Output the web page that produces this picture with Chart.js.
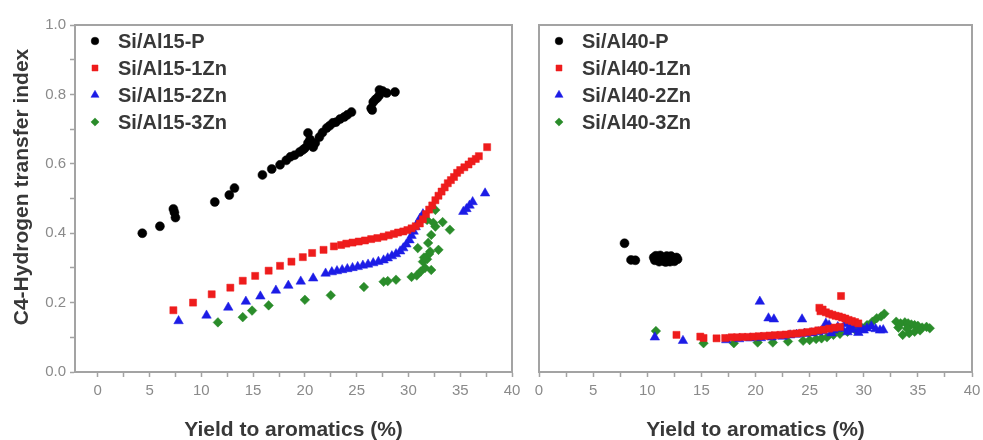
<!DOCTYPE html>
<html>
<head>
<meta charset="utf-8">
<script src="https://cdn.jsdelivr.net/npm/chart.js@4.4.1/dist/chart.umd.min.js"></script>
<style>
  html, body { margin: 0; padding: 0; background: #fff; }
  #wrap { position: relative; width: 983px; height: 440px; overflow: hidden; }
  #wrap canvas { position: absolute; top: 0; }
</style>
</head>
<body>
<div id="wrap">
  <canvas id="leftChart" width="520" height="440" style="left:0"></canvas>
  <canvas id="rightChart" width="463" height="440" style="left:520px"></canvas>
</div>
<script>
// tick positions (minor every 2.5 / 0.1, labels only on the major ones)
var xTicks = [0, 2.5, 5, 7.5, 10, 12.5, 15, 17.5, 20, 22.5, 25, 27.5, 30, 32.5, 35, 37.5, 40];
var yTicks = [0, 0.1, 0.2, 0.3, 0.4, 0.5, 0.6, 0.7, 0.8, 0.9, 1.0];

var xTitle = "Yield to aromatics (%)";
var yTitle = "C4-Hydrogen transfer index";

// serie lewego panelu (Si/Al15) - [wydajność, indeks]
var leftLabels = ["Si/Al15-P", "Si/Al15-1Zn", "Si/Al15-2Zn", "Si/Al15-3Zn"];
var al15P = [[4.3,0.40],[6.0,0.42],[7.3,0.47],[7.4,0.46],[7.5,0.445],[11.3,0.49],[12.7,0.51],[13.2,0.53],
  [15.9,0.568],[16.8,0.585],[17.6,0.597],[18.2,0.61],[18.6,0.62],[19.0,0.625],[19.5,0.634],[19.8,0.64],
  [20.0,0.645],[20.3,0.66],[20.3,0.689],[20.5,0.67],[20.8,0.648],[21.0,0.66],[21.4,0.677],[21.7,0.69],
  [22.1,0.703],[22.4,0.71],[22.7,0.718],[23.0,0.72],[23.4,0.729],[23.8,0.735],[24.1,0.741],[24.5,0.749],
  [26.4,0.76],[26.5,0.755],[26.6,0.778],[26.8,0.785],[27.0,0.79],[27.2,0.798],[27.2,0.813],[27.5,0.81],
  [27.9,0.804],[28.7,0.807]];
var al15Zn1 = [[7.3,0.178],[9.2,0.20],[11.0,0.224],[12.8,0.243],[14.0,0.263],[15.2,0.277],[16.5,0.292],
  [17.6,0.306],[18.7,0.318],[19.8,0.331],[20.7,0.343],[21.8,0.352],[22.8,0.362],[23.5,0.366],[24.0,0.37],
  [24.6,0.373],[25.2,0.376],[25.8,0.379],[26.4,0.383],[27.0,0.386],[27.6,0.39],[28.1,0.394],[28.6,0.398],
  [29.0,0.402],[29.5,0.405],[29.9,0.409],[30.3,0.414],[30.7,0.42],[31.1,0.428],[31.4,0.44],[31.7,0.455],
  [32.0,0.468],[32.3,0.48],[32.6,0.495],[32.9,0.508],[33.2,0.52],[33.5,0.532],[33.8,0.544],[34.1,0.553],
  [34.4,0.562],[34.7,0.574],[35.0,0.582],[35.4,0.59],[35.8,0.598],[36.1,0.607],[36.5,0.614],[36.8,0.622],
  [37.6,0.648]];
var al15Zn2 = [[7.8,0.147],[10.5,0.163],[12.6,0.186],[14.3,0.203],[15.7,0.218],[17.2,0.235],[18.4,0.249],
  [19.6,0.261],[20.8,0.27],[22.0,0.284],[22.6,0.288],[23.1,0.291],[23.6,0.294],[24.1,0.297],[24.6,0.3],
  [25.1,0.303],[25.6,0.307],[26.1,0.31],[26.6,0.314],[27.1,0.318],[27.6,0.322],[28.0,0.328],[28.4,0.334],
  [28.8,0.34],[29.2,0.348],[29.5,0.357],[29.8,0.368],[30.1,0.38],[30.3,0.393],[30.5,0.405],[30.7,0.418],
  [30.9,0.43],[31.1,0.442],[31.4,0.455],[35.3,0.462],[35.6,0.47],[35.9,0.48],[36.2,0.49],[37.4,0.515]];
var al15Zn3 = [[11.6,0.143],[14.0,0.158],[14.9,0.177],[16.5,0.192],[20.0,0.208],[22.5,0.221],[25.7,0.245],
  [27.6,0.26],[28.0,0.262],[28.8,0.266],[30.3,0.274],[30.8,0.278],[31.2,0.29],[31.6,0.3],[31.4,0.318],
  [31.8,0.325],[32.2,0.294],[32.0,0.34],[30.9,0.357],[32.1,0.347],[32.9,0.352],[31.9,0.372],[32.2,0.395],
  [32.6,0.419],[33.3,0.432],[34.0,0.41],[31.8,0.438],[32.6,0.467],[32.4,0.43],[31.5,0.33]];

// serie prawego panelu (Si/Al40)
var rightLabels = ["Si/Al40-P", "Si/Al40-1Zn", "Si/Al40-2Zn", "Si/Al40-3Zn"];
var al40P = [[7.9,0.371],[8.5,0.323],[8.9,0.322],[10.6,0.33],[10.7,0.322],[10.8,0.335],[11.0,0.325],
  [11.1,0.318],[11.2,0.336],[11.3,0.33],[11.5,0.32],[11.6,0.326],[11.7,0.317],[11.8,0.334],[11.9,0.328],
  [12.0,0.322],[12.1,0.318],[12.2,0.334],[12.3,0.33],[12.4,0.324],[12.5,0.319],[12.7,0.33],[12.8,0.325]];
var al40Zn1 = [[12.7,0.107],[14.9,0.102],[15.2,0.098],[16.4,0.097],[17.2,0.098],[17.8,0.1],[18.3,0.1],
  [18.8,0.101],[19.3,0.101],[19.8,0.102],[20.3,0.103],[20.8,0.104],[21.3,0.105],[21.8,0.106],[22.3,0.107],
  [22.8,0.108],[23.3,0.11],[23.8,0.111],[24.3,0.113],[24.8,0.115],[25.3,0.117],[25.8,0.12],[26.3,0.122],
  [26.8,0.125],[27.3,0.128],[27.8,0.13],[25.9,0.185],[26.0,0.175],[26.2,0.18],[26.5,0.172],[26.8,0.168],
  [27.1,0.165],[27.4,0.162],[27.7,0.16],[28.0,0.157],[28.3,0.154],[28.6,0.15],[28.9,0.147],[29.2,0.144],
  [29.5,0.14],[27.9,0.219]];
var al40Zn2 = [[10.7,0.10],[13.3,0.09],[17.3,0.092],[20.4,0.203],[21.2,0.155],[21.7,0.152],[24.3,0.152],
  [18.5,0.095],[19.5,0.097],[20.5,0.098],[21.5,0.1],[22.5,0.102],[23.2,0.106],[23.8,0.108],[24.5,0.11],
  [25.2,0.112],[25.8,0.115],[26.2,0.118],[26.5,0.14],[26.8,0.135],[27.2,0.12],[27.6,0.13],[28.0,0.125],
  [28.3,0.138],[28.7,0.13],[29.0,0.122],[29.3,0.135],[29.7,0.128],[30.0,0.12],[30.3,0.126],[30.7,0.132],
  [31.1,0.124],[31.5,0.12],[31.8,0.121],[27.0,0.112],[28.5,0.115],[29.5,0.113]];
var al40Zn3 = [[10.8,0.118],[15.2,0.083],[18.0,0.083],[20.2,0.085],[21.6,0.085],[23.0,0.088],[24.4,0.09],
  [25.0,0.092],[25.6,0.095],[26.1,0.097],[26.6,0.1],[27.2,0.107],[27.8,0.11],[28.5,0.116],[29.2,0.122],
  [29.8,0.128],[30.3,0.135],[30.8,0.145],[31.2,0.155],[31.6,0.16],[31.9,0.168],[33.0,0.145],[33.4,0.14],
  [33.8,0.143],[34.1,0.14],[34.4,0.137],[34.7,0.135],[35.0,0.133],[35.4,0.128],[35.8,0.13],[36.1,0.126],
  [33.6,0.107],[34.2,0.112],[34.7,0.116],[35.2,0.12],[33.2,0.128],[34.0,0.125]];

// wygląd serii
var seriesColors = ["#000000", "#ee1c1c", "#1c1ce6", "#2a8c2a"];
var seriesStyles = ["circle", "rect", "triangle", "rectRot"];
var seriesRadius = [4.5, 5, 5.5, 4.8];

var fontFamily = "'Liberation Sans', Arial, sans-serif";
var axisColor = "#a3a3a3";
var tickColor = "#8a8a8a";
var textColor = "#383838";

function toPoints(pairs) {
  return pairs.map(function (p) { return { x: p[0], y: p[1] }; });
}

function makeDatasets(labels, series) {
  return series.map(function (s, i) {
    return {
      label: labels[i],
      data: toPoints(s),
      pointStyle: seriesStyles[i],
      pointRadius: seriesRadius[i],
      backgroundColor: seriesColors[i],
      borderColor: seriesColors[i],
      borderWidth: 0.5,
      showLine: false
    };
  });
}

// ramka wokół obszaru wykresu + legenda w środku + tytuł osi Y
var panelPlugin = {
  id: "panelDecor",
  afterDraw: function (chart, args, opts) {
    var ctx = chart.ctx;
    var ca = chart.chartArea;
    ctx.save();
    ctx.strokeStyle = axisColor;
    ctx.lineWidth = 2;
    ctx.strokeRect(ca.left, ca.top, ca.right - ca.left, ca.bottom - ca.top);

    // legenda
    ctx.font = "bold 20px " + fontFamily;
    ctx.textBaseline = "middle";
    ctx.textAlign = "left";
    chart.data.datasets.forEach(function (ds, i) {
      var y = ca.top + 16 + i * 27;
      ctx.fillStyle = ds.backgroundColor;
      ctx.strokeStyle = ds.borderColor;
      ctx.lineWidth = 0.5;
      Chart.helpers.drawPoint(ctx, { pointStyle: ds.pointStyle, radius: ds.pointRadius * 0.85, rotation: 0, borderWidth: 0.5 }, ca.left + 20, y);
      ctx.fillStyle = textColor;
      ctx.fillText(ds.label, ca.left + 43, y + 1);
    });

    if (opts.yTitle) {
      ctx.translate(22, 187);
      ctx.rotate(-Math.PI / 2);
      ctx.textAlign = "center";
      ctx.fillStyle = textColor;
      ctx.font = "bold 21px " + fontFamily;
      ctx.fillText(opts.yTitle, 0, 0);
    }
    ctx.restore();
  }
};

function makeOptions(cfg) {
  return {
    responsive: false,
    animation: false,
    layout: { padding: { top: 25, right: cfg.padRight, left: 0, bottom: 0 } },
    plugins: {
      legend: { display: false },
      tooltip: { enabled: false },
      panelDecor: { yTitle: cfg.yTitle }
    },
    scales: {
      x: {
        type: "linear",
        min: cfg.xMin,
        max: 40,
        afterFit: function (s) {
          s.height = 68;
          s.paddingLeft = 0;
          s.paddingRight = 0;
        },
        afterBuildTicks: function (s) {
          s.ticks = xTicks.map(function (v) { return { value: v }; });
        },
        ticks: {
          color: tickColor,
          font: { size: 15, family: fontFamily },
          padding: 5,
          maxRotation: 0,
          autoSkip: false,
          callback: function (v) { return v % 5 === 0 ? String(v) : ""; }
        },
        grid: { drawOnChartArea: false, tickLength: 5, color: axisColor, tickWidth: 1.5 },
        border: { color: axisColor, width: 2 },
        title: {
          display: true,
          text: xTitle,
          color: textColor,
          font: { size: 21, weight: "bold", family: fontFamily },
          padding: { top: 0, bottom: -3 }
        }
      },
      y: {
        type: "linear",
        min: 0,
        max: 1,
        afterFit: function (s) {
          s.width = cfg.yWidth;
          s.paddingTop = 0;
          s.paddingBottom = 0;
        },
        afterBuildTicks: function (s) {
          s.ticks = yTicks.map(function (v) { return { value: v }; });
        },
        ticks: {
          display: cfg.yLabels,
          color: tickColor,
          font: { size: 15, family: fontFamily },
          padding: 4,
          autoSkip: false,
          callback: function (v) { return Math.round(v * 10) % 2 === 0 ? v.toFixed(1) : ""; }
        },
        grid: { drawOnChartArea: false, drawTicks: cfg.yLabels, tickLength: 5, color: axisColor, tickWidth: 1.5 },
        border: { color: axisColor, width: 2 }
      }
    }
  };
}

new Chart(document.getElementById("leftChart"), {
  type: "scatter",
  data: { datasets: makeDatasets(leftLabels, [al15P, al15Zn1, al15Zn2, al15Zn3]) },
  options: makeOptions({ xMin: -2.2, padRight: 8, yWidth: 75, yLabels: true, yTitle: yTitle }),
  plugins: [panelPlugin]
});

new Chart(document.getElementById("rightChart"), {
  type: "scatter",
  data: { datasets: makeDatasets(rightLabels, [al40P, al40Zn1, al40Zn2, al40Zn3]) },
  options: makeOptions({ xMin: 0, padRight: 11, yWidth: 19, yLabels: false, yTitle: null }),
  plugins: [panelPlugin]
});
</script>
</body>
</html>
